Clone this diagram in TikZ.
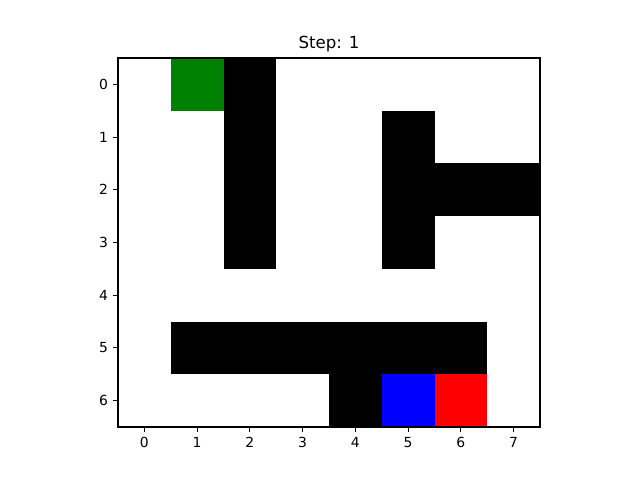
\documentclass[tikz,border=0pt]{standalone}
\usepackage{fontspec}
\setmainfont{DejaVu Sans}
\usetikzlibrary{positioning}

\begin{document}
\begin{tikzpicture}[
      x=1.055cm,y=-1.054cm,
      wall/.style={fill=black},
      spine/.style={draw=black,line width=0.63pt},
      tickmark/.style={line width=0.63pt},
      ticklabel/.style={font=\fontsize{7.9}{9}\selectfont,inner sep=0pt}
    ]
      \useasboundingbox (-2.737,-1.601) rectangle (9.395,7.507);
      % grid cells
      \fill[wall] (1.5,-0.5) rectangle (2.5,3.5);
      \fill[wall] (4.5,0.5) rectangle (5.5,3.5);
      \fill[wall] (5.5,1.5) rectangle (7.5,2.5);
      \fill[wall] (0.5,4.5) rectangle (6.5,5.5);
      \fill[wall] (3.5,5.5) rectangle (4.5,6.5);
      \fill[green!50!black] (0.5,-0.5) rectangle (1.5,0.5);
      \fill[blue] (4.5,5.5) rectangle (5.5,6.5);
      \fill[red] (5.5,5.5) rectangle (6.5,6.5);
      % axes frame
      \coordinate (tl) at (-0.5,-0.5);
      \coordinate (br) at (7.5,6.5);
      \draw[spine] (tl) rectangle (br);
      \node[font=\fontsize{9.45}{11}\selectfont,anchor=base,inner sep=0pt] (title) at (3.5,-0.672) {Step: 1};
      % ticks
      \foreach \c in {0,...,7} {
        \draw[tickmark] (\c,6.5) -- ++(0,0.092);
        \node[ticklabel,anchor=north] (xt\c) at (\c,6.685) {\c};
      }
      \foreach \r in {0,...,6} {
        \draw[tickmark] (-0.5,\r) -- ++(-0.092,0);
        \node[ticklabel,anchor=east] (yt\r) at (-0.684,\r) {\r};
      }
    \end{tikzpicture}
\end{document}
